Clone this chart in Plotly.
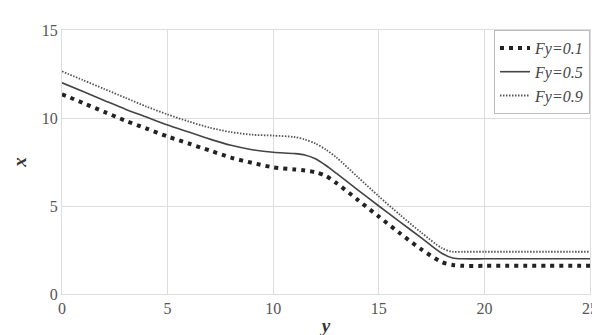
import plotly.graph_objects as go

y_pos = [0, 1, 2, 3, 4, 5, 6, 7, 8, 9, 10, 11, 11.5, 12, 12.5, 13, 14, 15, 16, 17, 18, 18.5, 19, 20, 21, 22, 23, 24, 25]
fy01 = [11.35, 10.85, 10.35, 9.85, 9.4, 8.95, 8.55, 8.15, 7.75, 7.45, 7.2, 7.08, 7.02, 6.92, 6.7, 6.3, 5.35, 4.4, 3.45, 2.55, 1.8, 1.65, 1.6, 1.6, 1.6, 1.6, 1.6, 1.6, 1.6]
fy05 = [12.0, 11.5, 11.0, 10.5, 10.05, 9.6, 9.2, 8.8, 8.45, 8.2, 8.05, 7.98, 7.9, 7.68, 7.3, 6.85, 5.92, 5.0, 4.1, 3.2, 2.3, 2.05, 2.0, 2.0, 2.0, 2.0, 2.0, 2.0, 2.0]
fy09 = [12.65, 12.15, 11.65, 11.15, 10.65, 10.2, 9.8, 9.45, 9.2, 9.05, 9.0, 8.92, 8.78, 8.55, 8.2, 7.75, 6.65, 5.55, 4.5, 3.5, 2.6, 2.4, 2.4, 2.4, 2.4, 2.4, 2.4, 2.4, 2.4]
names = ["Fy=0.1", "Fy=0.5", "Fy=0.9"]
tick_vals = [0, 5, 10, 15, 20, 25]
ytick_vals = [0, 5, 10, 15]

serif = "'Liberation Serif', 'DejaVu Serif', serif"

fig = go.Figure()
fig.add_trace(go.Scatter(x=y_pos, y=fy01, mode="lines", name=names[0],
                         line=dict(color="#222222", width=4, dash="4px,5px", shape="spline", smoothing=0.8)))
fig.add_trace(go.Scatter(x=y_pos, y=fy05, mode="lines", name=names[1],
                         line=dict(color="#444444", width=1.6, shape="spline", smoothing=0.8)))
fig.add_trace(go.Scatter(x=y_pos, y=fy09, mode="lines", name=names[2],
                         line=dict(color="#555555", width=1.8, dash="1.5px,1.5px", shape="spline", smoothing=0.8)))

fig.update_layout(
    width=600, height=335,
    margin=dict(l=50, r=10, t=22, b=46),
    paper_bgcolor="white", plot_bgcolor="white",
    font=dict(family=serif, size=16, color="#555555"),
    showlegend=True,
    legend=dict(x=1, y=1, xanchor="right", yanchor="top",
                bordercolor="#bbbbbb", borderwidth=1, bgcolor="white",
                font=dict(family=serif, size=16, color="#444444", style="italic"),
                tracegroupgap=0, itemwidth=30),
)
fig.update_xaxes(range=[0, 25], tickvals=tick_vals, showgrid=True, gridcolor="#dddddd",
                 zeroline=False, showline=True, linecolor="#dddddd", mirror=True,
                 ticks="", tickfont=dict(family=serif, size=16, color="#555555"),
                 title=dict(text="<b><i>y</i></b>", font=dict(family=serif, size=19, color="#333333"), standoff=2))
fig.update_yaxes(range=[0, 15], tickvals=ytick_vals, showgrid=True, gridcolor="#dddddd",
                 zeroline=False, showline=True, linecolor="#dddddd", mirror=True,
                 ticks="", tickfont=dict(family=serif, size=16, color="#555555"),
                 title=dict(text="<b><i>x</i></b>", font=dict(family=serif, size=19, color="#333333"), standoff=10))

fig.write_html("out.html")
